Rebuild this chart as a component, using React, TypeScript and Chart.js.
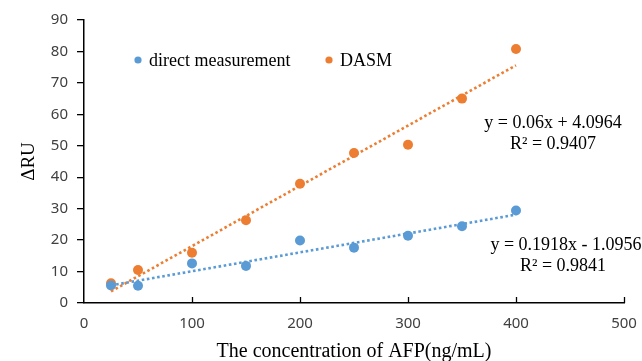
import React, { useEffect, useRef } from "react";
import { Chart, registerables } from "chart.js";

Chart.register(...registerables);

const concentrations = [25, 50, 100, 150, 200, 250, 300, 350, 400];
const directValues = [5.6, 5.5, 12.6, 11.8, 19.9, 17.6, 21.4, 24.4, 29.4];
const dasmValues = [6.3, 10.5, 16.0, 26.3, 37.9, 47.7, 50.3, 65.0, 80.8];

const trendX = [25, 400];
const directTrend = [5.6, 28.1];
const dasmTrend = [3.7, 75.6];

const seriesNames = ["direct measurement", "DASM"];
const equationLabels = [
  ["y = 0.06x + 4.0964", "R² = 0.9407"],
  ["y = 0.1918x - 1.0956", "R² = 0.9841"],
];

const BLUE = "#5B9BD5";
const ORANGE = "#ED7D31";
const SERIF = "'Liberation Serif', 'Times New Roman', serif";
const SANS = "'Noto Sans', 'DejaVu Sans', sans-serif";

const toPoints = (xs: number[], ys: number[]) => xs.map((x, i) => ({ x, y: ys[i] }));

const decorPlugin = {
  id: "decor",
  afterDraw(chart: any) {
    const { ctx, scales } = chart;
    const xs = scales.x;
    const ys = scales.y;
    ctx.save();
    // inward x ticks
    ctx.strokeStyle = "#000";
    ctx.lineWidth = 1.3;
    for (let v = 100; v <= 500; v += 100) {
      const px = Math.round(xs.getPixelForValue(v)) + 0.5;
      ctx.beginPath();
      ctx.moveTo(px, ys.bottom);
      ctx.lineTo(px, ys.bottom - 6);
      ctx.stroke();
    }
    // legend
    ctx.font = `18px ${SERIF}`;
    ctx.textBaseline = "middle";
    ctx.textAlign = "left";
    const legendY = 60;
    const items = [
      { color: BLUE, x: 138, label: seriesNames[0] },
      { color: ORANGE, x: 329, label: seriesNames[1] },
    ];
    for (const it of items) {
      ctx.fillStyle = it.color;
      ctx.beginPath();
      ctx.arc(it.x, legendY, 3.6, 0, Math.PI * 2);
      ctx.fill();
      ctx.fillStyle = "#000";
      ctx.fillText(it.label, it.x + 11, legendY + 1.5);
    }
    // equations
    ctx.textAlign = "center";
    ctx.fillStyle = "#000";
    ctx.fillText(equationLabels[0][0], 553, 123);
    ctx.fillText(equationLabels[0][1], 553, 144);
    ctx.fillText(equationLabels[1][0], 566, 245);
    ctx.fillText(equationLabels[1][1], 563, 266);
    ctx.restore();
  },
};

export default function App() {
  const canvasRef = useRef<HTMLCanvasElement | null>(null);

  useEffect(() => {
    document.body.style.margin = "0";
    const canvas = canvasRef.current;
    if (!canvas) return;
    const chart = new Chart(canvas, {
      type: "scatter",
      data: {
        datasets: [
          {
            label: seriesNames[0] + " trend",
            data: toPoints(trendX, directTrend),
            showLine: true,
            borderColor: BLUE,
            borderWidth: 2.6,
            borderDash: [2.6, 2.6],
            pointRadius: 0,
            order: 0,
          },
          {
            label: seriesNames[1] + " trend",
            data: toPoints(trendX, dasmTrend),
            showLine: true,
            borderColor: ORANGE,
            borderWidth: 2.6,
            borderDash: [2.6, 2.6],
            pointRadius: 0,
            order: 0,
          },
          {
            label: seriesNames[0],
            data: toPoints(concentrations, directValues),
            backgroundColor: BLUE,
            borderColor: BLUE,
            pointRadius: 5,
            borderWidth: 0,
            order: 1,
          },
          {
            label: seriesNames[1],
            data: toPoints(concentrations, dasmValues),
            backgroundColor: ORANGE,
            borderColor: ORANGE,
            pointRadius: 5,
            borderWidth: 0,
            order: 1,
          },
        ],
      },
      options: {
        responsive: false,
        animation: false,
        layout: { padding: { left: 0, right: 18, top: 20, bottom: 0 } },
        plugins: {
          legend: { display: false },
          tooltip: { enabled: false },
        },
        scales: {
          x: {
            type: "linear",
            min: 0,
            max: 500,
            afterFit: (s: any) => {
              s.height = 58;
              s.paddingRight = 0;
              s.paddingLeft = 0;
            },
            ticks: {
              stepSize: 100,
              color: "#404040",
              font: { family: SANS, size: 15 },
              padding: 12,
              maxRotation: 0,
            },
            grid: { display: true, drawOnChartArea: false, drawTicks: false, color: "#000" },
            border: { color: "#000", width: 1.5 },
            title: {
              display: true,
              text: "The concentration of AFP(ng/mL)",
              color: "#000",
              font: { family: SERIF, size: 20 },
              padding: { top: 0, bottom: -3 },
            },
          },
          y: {
            type: "linear",
            min: 0,
            max: 90,
            afterFit: (s: any) => {
              s.width = 84;
              s.paddingTop = 0;
              s.paddingBottom = 0;
            },
            ticks: {
              stepSize: 10,
              color: "#404040",
              font: { family: SANS, size: 15 },
              padding: 9,
            },
            grid: { display: true, drawOnChartArea: false, drawTicks: true, tickLength: 7, color: "#000", lineWidth: 1.3 },
            border: { color: "#000", width: 1.5 },
            title: {
              display: true,
              text: "ΔRU",
              color: "#000",
              font: { family: SERIF, size: 19 },
              padding: { top: 18, bottom: 0 },
            },
          },
        },
      },
      plugins: [decorPlugin],
    });
    return () => chart.destroy();
  }, []);

  return <canvas ref={canvasRef} width={642} height={361} style={{ display: "block" }} />;
}
